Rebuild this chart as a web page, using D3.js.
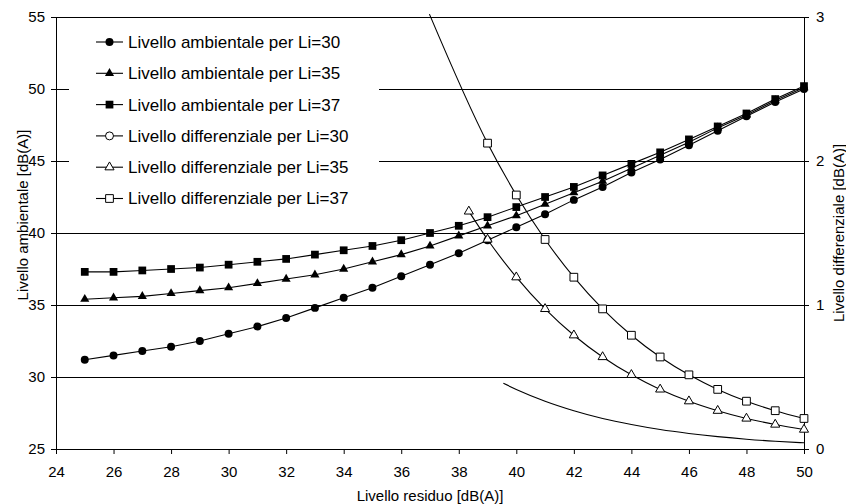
<!DOCTYPE html>
<html><head><meta charset="utf-8">
<script src="https://cdn.jsdelivr.net/npm/d3@7"></script>
<style>
html,body{margin:0;padding:0;background:#fff;}
svg{display:block;font-family:"Liberation Sans",Arial,sans-serif;}
</style></head>
<body>
<svg id="chart" width="846" height="504"></svg>
<script>
// ---- data ----
const residuo = [25,26,27,28,29,30,31,32,33,34,35,36,37,38,39,40,41,42,43,44,45,46,47,48,49,50];
const ambiente30 = [31.2,31.5,31.8,32.1,32.5,33.0,33.5,34.1,34.8,35.5,36.2,37.0,37.8,38.6,39.5,40.4,41.3,42.3,43.2,44.2,45.1,46.1,47.1,48.1,49.1,50.0];
const ambiente35 = [35.4,35.5,35.6,35.8,36.0,36.2,36.5,36.8,37.1,37.5,38.0,38.5,39.1,39.8,40.5,41.2,42.0,42.8,43.6,44.5,45.4,46.3,47.3,48.2,49.2,50.1];
const ambiente37 = [37.3,37.3,37.4,37.5,37.6,37.8,38.0,38.2,38.5,38.8,39.1,39.5,40.0,40.5,41.1,41.8,42.5,43.2,44.0,44.8,45.6,46.5,47.4,48.3,49.3,50.2];

const diff30X = [39.55,40,41,42,43,44,45,46,47,48,49,50];
const diff30  = [0.456,0.414,0.332,0.266,0.212,0.170,0.135,0.108,0.086,0.068,0.054,0.043];
const diff35X = [38.35,39,40,41,42,43,44,45,46,47,48,49,50];
const diff35  = [1.65,1.455,1.193,0.973,0.790,0.639,0.515,0.414,0.332,0.266,0.212,0.170,0.135];
const diff37X = [36.98,39,40,41,42,43,44,45,46,47,48,49,50];
const diff37  = [3.02,2.124,1.764,1.455,1.193,0.973,0.790,0.639,0.515,0.414,0.332,0.266,0.212];

const xTicks = [24,26,28,30,32,34,36,38,40,42,44,46,48,50];
const yLeftTicks = [25,30,35,40,45,50,55];
const yRightTicks = [0,1,2,3];
const legendLabels = [
  "Livello ambientale per Li=30",
  "Livello ambientale per Li=35",
  "Livello ambientale per Li=37",
  "Livello differenziale per Li=30",
  "Livello differenziale per Li=35",
  "Livello differenziale per Li=37"
];

// ---- layout ----
const L = 56, R = 804, T = 17, B = 449;
const svg = d3.select("#chart");
const x = d3.scaleLinear().domain([24,50]).range([L,R]);
const yL = d3.scaleLinear().domain([25,55]).range([B,T]);
const yR = d3.scaleLinear().domain([0,3]).range([B,T]);

// gridlines
svg.append("g").selectAll("line").data(yLeftTicks.filter(d=>d>25)).join("line")
  .attr("x1",L).attr("x2",R)
  .attr("y1",d=>yL(d)+0.5).attr("y2",d=>yL(d)+0.5)
  .attr("stroke","#000").attr("stroke-width",1);

// axes
const fs = "15px";
const gx = svg.append("g").attr("transform",`translate(0,${B})`)
  .call(d3.axisBottom(x).tickValues(xTicks).tickSize(5).tickPadding(12).tickFormat(d3.format("d")));
const gl = svg.append("g").attr("transform",`translate(${L},0)`)
  .call(d3.axisLeft(yL).tickValues(yLeftTicks).tickSize(5).tickPadding(6).tickFormat(d3.format("d")));
const gr = svg.append("g").attr("transform",`translate(${R},0)`)
  .call(d3.axisRight(yR).tickValues(yRightTicks).tickSize(5).tickPadding(7).tickFormat(d3.format("d")));
[gx,gl,gr].forEach(g=>{
  g.select(".domain").attr("stroke","#000");
  g.selectAll(".tick line").attr("stroke","#000");
  g.selectAll(".tick text").attr("fill","#000").style("font-size",fs).style("font-family","'Liberation Sans',Arial,sans-serif");
});
gx.select(".domain").attr("d",`M${L},0.5H${R}`);
gl.select(".domain").attr("d",`M0.5,${T}V${B}`);
gr.select(".domain").attr("d",`M0.5,${T}V${B}`);

// axis titles
svg.append("text").attr("x",(L+R)/2).attr("y",501).attr("text-anchor","middle")
  .style("font-size",fs).text("Livello residuo [dB(A)]");
svg.append("text").attr("transform","translate(28,215) rotate(-90)").attr("text-anchor","middle")
  .style("font-size",fs).text("Livello ambientale [dB(A)]");
svg.append("text").attr("transform","translate(844,233) rotate(-90)").attr("text-anchor","middle")
  .style("font-size",fs).text("Livello differenziale [dB(A)]");

// series
const symCircle = d3.symbol().type(d3.symbolCircle).size(50);
const symTri = d3.symbol().type(d3.symbolTriangle).size(36);
const symSquare = d3.symbol().type(d3.symbolSquare).size(60);

const ambSeries = [
  {vals: ambiente30, sym: symCircle},
  {vals: ambiente35, sym: symTri},
  {vals: ambiente37, sym: symSquare}
];
const lineAmb = d3.line().x(d=>x(d[0])).y(d=>yL(d[1]));
ambSeries.forEach(s=>{
  const pts = residuo.map((r,i)=>[r,s.vals[i]]);
  svg.append("path").datum(pts).attr("d",lineAmb).attr("fill","none").attr("stroke","#000").attr("stroke-width",1.1);
  svg.append("g").selectAll("path").data(pts).join("path")
    .attr("transform",d=>`translate(${x(d[0])},${yL(d[1])})`)
    .attr("d",s.sym()).attr("fill","#000");
});

const diffSeries = [
  {xs: diff30X, vals: diff30, sym: null},
  {xs: diff35X, vals: diff35, sym: symTri},
  {xs: diff37X, vals: diff37, sym: symSquare}
];
const lineDiff = d3.line().x(d=>x(d[0])).y(d=>yR(d[1])).curve(d3.curveMonotoneX);
diffSeries.forEach(s=>{
  const pts = s.xs.map((r,i)=>[r,s.vals[i]]);
  svg.append("path").datum(pts).attr("d",lineDiff).attr("fill","none").attr("stroke","#000").attr("stroke-width",1.1);
  if (s.sym) {
    svg.append("g").selectAll("path").data(pts.filter(d=>d[1]<=3)).join("path")
      .attr("transform",d=>`translate(${x(d[0])},${yR(d[1])})`)
      .attr("d",s.sym()).attr("fill","#fff").attr("stroke","#000").attr("stroke-width",1);
  }
});

// legend
const lg = svg.append("g");
lg.append("rect").attr("x",69).attr("y",22).attr("width",310).attr("height",198).attr("fill","#fff");
const legSyms = [
  {sym: symCircle, fill:"#000"},
  {sym: symTri, fill:"#000"},
  {sym: symSquare, fill:"#000"},
  {sym: symCircle, fill:"#fff"},
  {sym: symTri, fill:"#fff"},
  {sym: symSquare, fill:"#fff"}
];
legendLabels.forEach((lab,i)=>{
  const yy = 42 + i*31.3;
  lg.append("line").attr("x1",96).attr("x2",123).attr("y1",yy).attr("y2",yy).attr("stroke","#000").attr("stroke-width",1.1);
  lg.append("path").attr("transform",`translate(109.5,${yy})`).attr("d",legSyms[i].sym())
    .attr("fill",legSyms[i].fill).attr("stroke","#000").attr("stroke-width",legSyms[i].fill==="#fff"?1:0);
  lg.append("text").attr("x",128).attr("y",yy).attr("dy","0.35em").style("font-size","17px").text(lab);
});
</script>
</body></html>
